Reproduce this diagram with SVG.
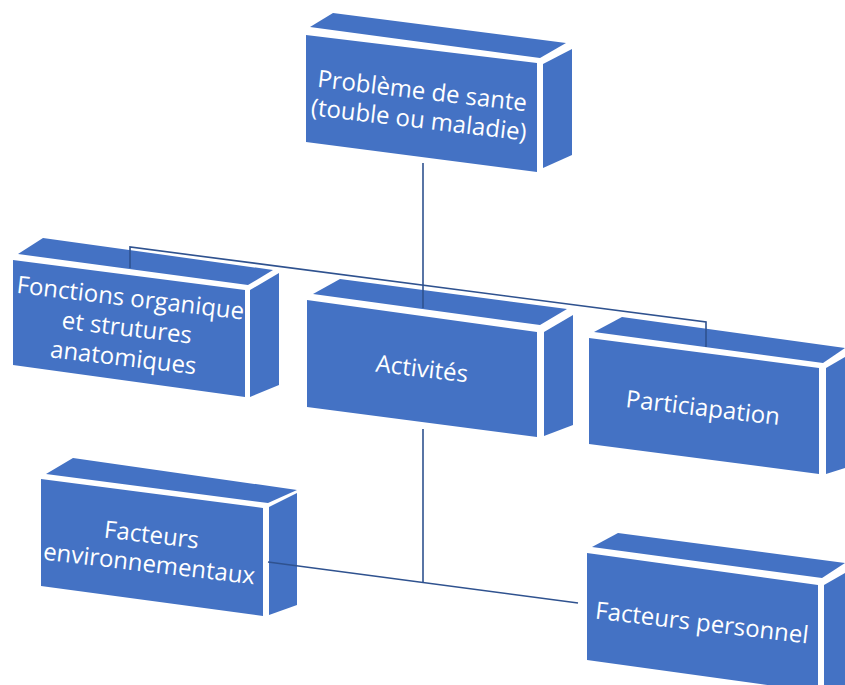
<svg xmlns="http://www.w3.org/2000/svg" width="845" height="685" viewBox="0 0 845 685">
<style>
.f{fill:#4472C4}
.t{fill:#fff;font-family:"Open Sans","Liberation Sans",sans-serif;font-size:24px;text-anchor:middle}
.c{fill:none;stroke:#2F528F;stroke-width:1.6}
</style>
<rect width="845" height="685" fill="#fff"/>
<g id="n1">
<polygon class="f" points="310,27 333,13 566,43 540,58"/>
<polygon class="f" points="306,35 537,63 537,172 306,142"/>
<polygon class="f" points="543,64 572,49 572,155 543,168"/>
<g transform="rotate(6.7 420 110)">
<text class="t" x="420" y="99">Problème de sante</text>
<text class="t" x="420" y="128">(touble ou maladie)</text>
</g>
</g>
<g id="n2">
<polygon class="f" points="18,254 43,238 273,270 248,285"/>
<polygon class="f" points="13,260 245,290 245,397 13,365"/>
<polygon class="f" points="250,290 279,273 279,385 250,397"/>
<g transform="rotate(6.7 126 336)">
<text class="t" x="126" y="306">Fonctions organique</text>
<text class="t" x="126" y="336">et strutures</text>
<text class="t" x="126" y="366">anatomiques</text>
</g>
</g>
<g id="n3">
<polygon class="f" points="313,294 340,279 567,309 540,325"/>
<polygon class="f" points="307,300 537,332 537,437 307,407"/>
<polygon class="f" points="544,332 573,315 573,425 544,436"/>
<text class="t" x="421" y="377" transform="rotate(6.7 421 377)">Activités</text>
</g>
<g id="n4">
<polygon class="f" points="594,332 622,317 845,348 823,363"/>
<polygon class="f" points="589,338 819,368 819,474 589,444"/>
<polygon class="f" points="826,368 845,357 845,468 826,474"/>
<text class="t" x="702" y="416" transform="rotate(6.7 702 416)">Particiapation</text>
</g>
<g id="n5">
<polygon class="f" points="46,474 73,458 297,490 268,503"/>
<polygon class="f" points="41,479 263,508 263,616 41,586"/>
<polygon class="f" points="269,507 297,493 297,605 269,615"/>
<g transform="rotate(6.7 150 557)">
<text class="t" x="149" y="543">Facteurs</text>
<text class="t" x="150" y="572">environnementaux</text>
</g>
</g>
<g id="n6">
<polygon class="f" points="592,547 618,533 845,563 822,578"/>
<polygon class="f" points="587,553 818,585 818,692 587,660"/>
<polygon class="f" points="824,585 845,573 845,685 824,685"/>
<text class="t" x="701" y="631" transform="rotate(6.7 701 631)">Facteurs personnel</text>
</g>
<g id="connectors">
<path class="c" d="M423,163 L423,308"/>
<path class="c" d="M130,268 L130,247 L706,322 L706,347"/>
<path class="c" d="M423,429 L423,582"/>
<path class="c" d="M268,562 L578,603"/>
</g>
</svg>
